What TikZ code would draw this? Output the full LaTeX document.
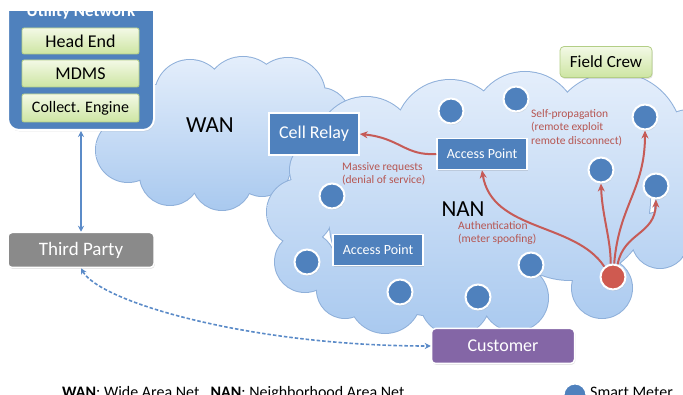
\documentclass[tikz,border=0pt]{standalone}
\usepackage{fontspec}
\setmainfont{Carlito}
\usetikzlibrary{arrows.meta,shadows}
\definecolor{nodeblue}{HTML}{4F81BD}
\definecolor{meterblue}{HTML}{4F81BD}
\definecolor{redmeter}{HTML}{CF5A50}
\definecolor{arrowred}{HTML}{C65B57}
\definecolor{labelred}{HTML}{B65652}
\definecolor{thirdgray}{HTML}{8A8A8A}
\definecolor{custpurple}{HTML}{8466A6}
\definecolor{greentop}{HTML}{F3F9E6}
\definecolor{greenbot}{HTML}{CDE5A2}
\definecolor{greenedge}{HTML}{B3CE86}
\definecolor{cloudline}{HTML}{8FB0DA}
\definecolor{cloudtop}{HTML}{E4EEFB}
\definecolor{cloudbot}{HTML}{A9C9EF}
\definecolor{linkblue}{HTML}{5B8BC8}
\begin{document}
\begin{tikzpicture}[x=1pt,y=-1pt,
  shad/.style={drop shadow={opacity=0.22,shadow xshift=0.8pt,shadow yshift=-1.4pt}},
  bluebox/.style={draw=white, line width=1.5pt, fill=nodeblue, text=white, inner sep=0pt, shad},
  greenbox/.style={draw=greenedge, line width=0.8pt, top color=greentop, bottom color=greenbot, rounded corners=2pt, inner sep=0pt, text=black},
  meter/.style={circle, fill=meterblue, draw=white, line width=2pt, minimum size=25pt, inner sep=0pt, shad},
  redarrow/.style={draw=arrowred, line width=2pt, -{Stealth[length=8pt,width=7pt]}},
  redlabel/.style={text=labelred, font=\fontsize{11.5}{13.5}\selectfont, align=left, inner sep=0pt},
  bluearrow/.style={draw=linkblue, line width=1.6pt, {Stealth[length=6pt,width=6pt]}-{Stealth[length=6pt,width=6pt]}},
  bluedash/.style={draw=linkblue, line width=1.6pt, dash pattern=on 3.5pt off 2pt, {Stealth[length=6pt,width=6pt]}-{Stealth[length=6pt,width=6pt]}},
  bigtext/.style={font=\fontsize{23}{23}\selectfont, text=black, inner sep=0pt}
]
\useasboundingbox (0,0) rectangle (683,395);
\clip (0,12) rectangle (683,395);

% ---- WAN cloud
\path[draw=cloudline, line width=2pt]
  foreach \px/\py/\pr in {190/95/35, 243/95/38, 288/95/37, 320/118/30, 158/115/30, 128/150/32,
     170/175/30, 222/180/30, 262/168/28, 220/135/50, 290/140/35, 152/140/26} {(\px,\py) circle (\pr pt)};
\shade[top color=cloudtop, bottom color=cloudbot]
  foreach \px/\py/\pr in {190/95/35, 243/95/38, 288/95/37, 320/118/30, 158/115/30, 128/150/32,
     170/175/30, 222/180/30, 262/168/28, 220/135/50, 290/140/35, 152/140/26} {(\px,\py) circle (\pr pt)};

% ---- NAN cloud
\path[draw=cloudline, line width=2pt]
  foreach \px/\py/\pr in {366/147/50, 450/135/55, 525/125/53, 615/140/67, 690/150/40, 700/210/45,
     660/240/28, 602/288/30, 515/298/33, 455/300/35, 385/297/36, 345/290/28, 305/262/30, 300/212/33,
     320/170/30, 470/200/90, 570/200/80, 390/225/60, 425/285/30} {(\px,\py) circle (\pr pt)};
\shade[top color=cloudtop, bottom color=cloudbot]
  foreach \px/\py/\pr in {366/147/50, 450/135/55, 525/125/53, 615/140/67, 690/150/40, 700/210/45,
     660/240/28, 602/288/30, 515/298/33, 455/300/35, 385/297/36, 345/290/28, 305/262/30, 300/212/33,
     320/170/30, 470/200/90, 570/200/80, 390/225/60, 425/285/30} {(\px,\py) circle (\pr pt)};

% ---- Utility network
\node[bluebox, line width=2pt, rounded corners=11pt, minimum width=146pt, minimum height=170pt] (util) at (81,45) {};
\node[text=white, font=\bfseries\fontsize{17}{17}\selectfont, anchor=base, inner sep=0pt] (utitle) at (81,16.5) {Utility Network};
\node[greenbox, minimum width=117pt, minimum height=26pt, font=\fontsize{18}{18}\selectfont] (head) at (80.5,41) {Head End};
\node[greenbox, minimum width=117pt, minimum height=27pt, font=\fontsize{18}{18}\selectfont] (mdms) at (80.5,73.5) {MDMS};
\node[greenbox, minimum width=117pt, minimum height=28pt, font=\fontsize{16}{16}\selectfont] (coll) at (80.5,108) {Collect. Engine};

\node[bigtext] (wan) at (210,125) {WAN};
\node[bigtext] (nan) at (463,209) {NAN};

% ---- boxes
\node[bluebox, minimum width=90pt, minimum height=42pt, font=\fontsize{18}{18}\selectfont] (cell) at (314,134) {Cell Relay};
\node[bluebox, minimum width=90pt, minimum height=31pt, font=\fontsize{14}{14}\selectfont] (ap1) at (482,154) {Access Point};
\node[bluebox, minimum width=90pt, minimum height=31pt, font=\fontsize{14}{14}\selectfont] (ap2) at (378,250) {Access Point};
\node[greenbox, shad, rounded corners=4pt, minimum width=92pt, minimum height=31pt, font=\fontsize{17}{17}\selectfont] (crew) at (606,62) {Field Crew};
\node[draw=white, line width=1.5pt, fill=thirdgray, text=white, rounded corners=4pt, shad, minimum width=146pt, minimum height=35pt, inner sep=0pt, font=\fontsize{19}{19}\selectfont] (third) at (81,250) {Third Party};
\node[draw=white, line width=1.5pt, fill=custpurple, text=white, rounded corners=4pt, shad, minimum width=143pt, minimum height=35pt, inner sep=0pt, font=\fontsize{18}{18}\selectfont] (cust) at (503,346) {Customer};

% ---- meters
\node[meter] (ma) at (451,111) {};
\node[meter] (mb) at (516,99) {};
\node[meter] (mc) at (645,117) {};
\node[meter] (md) at (601,170) {};
\node[meter] (me) at (656,186) {};
\node[meter] (mf) at (332,196) {};
\node[meter] (mg) at (307,262) {};
\node[meter] (mh) at (400,292) {};
\node[meter] (mi) at (478,297) {};
\node[meter] (mj) at (531,265) {};
\node[meter, fill=redmeter] (mr) at (613,277) {};

% ---- red labels
\node[redlabel, anchor=north west] (lmass) at (342,162) {Massive requests\\(denial of service)};
\node[redlabel, anchor=north west] (lself) at (531,109) {Self-propagation\\(remote exploit\\remote disconnect)};
\node[redlabel, anchor=north west] (lauth) at (458,221) {Authentication\\(meter spoofing)};

% ---- red arrows
\draw[redarrow] (ap1.west) .. controls (405,156) and (400,138) .. (cell.east);
\draw[redarrow] (mr.130) .. controls (575,222) and (492,232) .. (ap1.south);
\draw[redarrow] (mr.100) .. controls (611,240) and (602,215) .. (md.south);
\draw[redarrow] (mr.85) .. controls (619,205) and (645,190) .. (mc.south);
\draw[redarrow] (mr.70) .. controls (624,232) and (655,235) .. (me.south);

% ---- blue links
\draw[bluearrow] (util.south) -- (third.north);
\draw[bluedash] (third.south) .. controls (100,302) and (250,346) .. (cust.west);

% ---- legend
\node[anchor=base west, inner sep=0pt, font=\fontsize{16}{16}\selectfont] (legend) at (62,398) {\textbf{WAN}: Wide Area Net , \textbf{NAN}: Neighborhood Area Net};
\node[meter, minimum size=23pt] (lmeter) at (575,395) {};
\node[anchor=base west, inner sep=0pt, font=\fontsize{16}{16}\selectfont] (lsm) at (590,397) {Smart Meter};
\end{tikzpicture}
\end{document}
